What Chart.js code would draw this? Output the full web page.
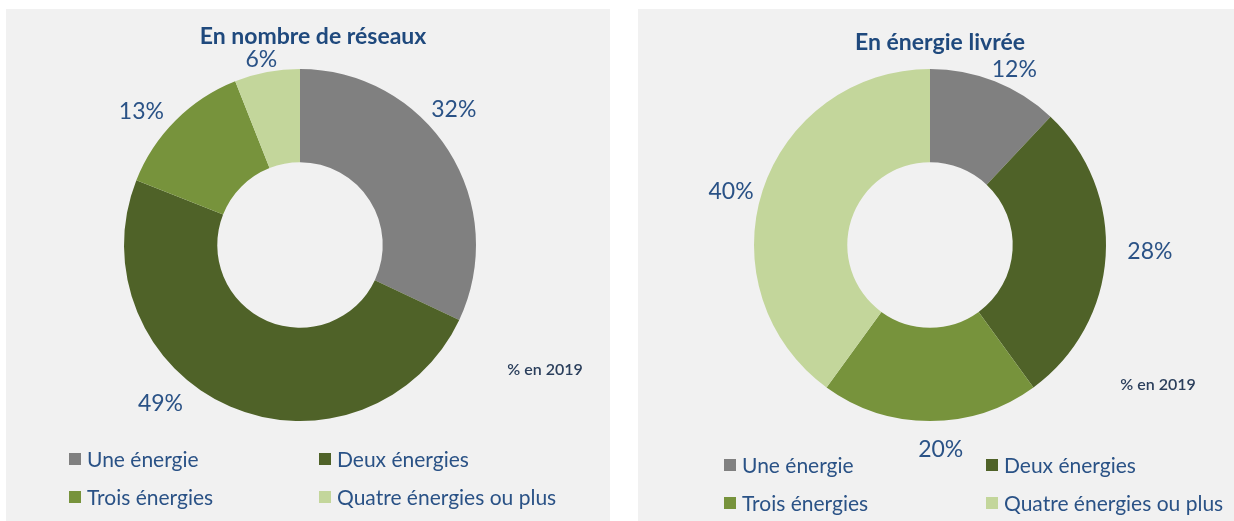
<!DOCTYPE html>
<html><head><meta charset="utf-8">
<script src="https://cdn.jsdelivr.net/npm/chart.js@4/dist/chart.umd.min.js"></script>
<style>
html,body{margin:0;padding:0;background:#fff;width:1234px;height:521px;overflow:hidden;}
.panel{position:absolute;background:#f1f1f1;}
#p1{left:6px;top:9px;width:604px;height:512px;}
#p2{left:638px;top:9px;width:596px;height:512px;}
canvas{display:block;}
</style></head>
<body>
<div class="panel" id="p1"><canvas id="c1" width="604" height="512"></canvas></div>
<div class="panel" id="p2"><canvas id="c2" width="596" height="512"></canvas></div>
<script>
// ---- data ----
const categories = ['Une énergie', 'Deux énergies', 'Trois énergies', 'Quatre énergies ou plus'];
const reseauxValues = [32, 49, 13, 6];
const energieValues = [12, 28, 20, 40];
const titleReseaux = 'En nombre de réseaux';
const titleEnergie = 'En énergie livrée';
const noteText = '% en 2019';

// ---- styles ----
const sliceColors = ['#808080', '#4f6228', '#77933c', '#c3d69b'];
const FONT = 'Lato, "Open Sans", sans-serif';
const TXT = '#1f497d';

const overlayPlugin = {
  id: 'overlay',
  afterDraw(chart, args, o) {
    const ctx = chart.ctx;
    ctx.save();
    // title
    ctx.fillStyle = TXT;
    ctx.font = 'bold 23px ' + FONT;
    ctx.textAlign = 'center';
    ctx.textBaseline = 'middle';
    ctx.fillText(o.title, o.titleX, o.titleY);
    // data labels from arcs
    const meta = chart.getDatasetMeta(0);
    const ds = chart.data.datasets[0];
    ctx.font = '23px ' + FONT;
    ctx.fillStyle = '#2a5286';
    meta.data.forEach((arc, i) => {
      const p = arc.getProps(['x', 'y', 'startAngle', 'endAngle'], true);
      const mid = (p.startAngle + p.endAngle) / 2 + (o.nudge[i] || 0) * Math.PI / 180;
      const d = o.dist[i];
      ctx.fillText(ds.data[i] + '%', p.x + Math.cos(mid) * d, p.y + Math.sin(mid) * d);
    });
    // note
    ctx.font = '600 16px ' + FONT;
    ctx.fillStyle = '#2b3f5c';
    ctx.fillText(o.note, o.noteX, o.noteY);
    // legend
    ctx.font = '21px ' + FONT;
    ctx.textAlign = 'left';
    chart.data.labels.forEach((lab, i) => {
      const col = i % 2, row = Math.floor(i / 2);
      const x = o.legX[col], y = o.legY[row];
      ctx.fillStyle = ds.backgroundColor[i];
      ctx.fillRect(x, y - 6, 12, 12);
      ctx.fillStyle = '#2a5286';
      ctx.fillText(lab, x + 18, y + 1);
    });
    ctx.restore();
  }
};

function makeChart(id, values, padding, overlay) {
  return new Chart(document.getElementById(id), {
    type: 'doughnut',
    data: {
      labels: categories,
      datasets: [{ data: values, backgroundColor: sliceColors, borderWidth: 0, hoverOffset: 0 }]
    },
    options: {
      responsive: false,
      animation: false,
      devicePixelRatio: 1,
      cutout: '47%',
      layout: { padding: padding },
      plugins: { legend: { display: false }, tooltip: { enabled: false }, overlay: overlay }
    },
    plugins: [overlayPlugin]
  });
}

makeChart('c1', reseauxValues, { left: 118, right: 134, top: 60, bottom: 100 }, {
  title: titleReseaux, titleX: 307, titleY: 28,
  nudge: [-9, 18, -5, -1], dist: [205, 211, 207, 189],
  note: noteText, noteX: 539, noteY: 361,
  legX: [63, 313], legY: [450, 488]
});
makeChart('c2', energieValues, { left: 116, right: 128, top: 60, bottom: 100 }, {
  title: titleEnergie, titleX: 302, titleY: 34,
  nudge: [4, -2, -3, -3], dist: [195, 220, 205, 206],
  note: noteText, noteX: 520, noteY: 376,
  legX: [86, 348], legY: [456, 494]
});
</script>
</body></html>
